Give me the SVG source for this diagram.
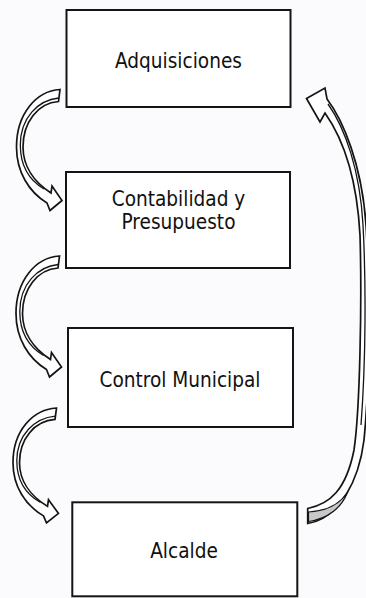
<svg xmlns="http://www.w3.org/2000/svg" width="366" height="598" viewBox="0 0 366 598">
<style>
.box{fill:#ffffff;stroke:#141414;stroke-width:2}
.lbl{font-family:'DejaVu Sans Condensed','DejaVu Sans',sans-serif;font-stretch:condensed;font-size:20.6px;fill:#111111;text-anchor:middle}
.arr{fill:#ffffff;stroke:#141414;stroke-width:1.7;stroke-linejoin:miter}
.fold{fill:none;stroke:#141414;stroke-width:1.3}
.back{fill:#c8c8c8;stroke:#141414;stroke-width:1.2}
</style>
<defs>
<g id="curvedArrow">
<path class="arr" d="M60,89.5 C36,91 16.5,114 16.5,147 C16.5,172 29,192 47,203 L50,210.5 L62,200.5 L52,186 L51,193 C34,182 23,166 23,147 C23,122 38,103 58.5,101.5 Z"/>
<path class="fold" d="M58.8,98 C38,100 20.3,118 20.3,145 C20.3,165 29,180 44,189"/>
</g>
</defs>
<rect x="0" y="0" width="366" height="598" fill="#fbfbfd"/>
<g id="connectors">
<use href="#curvedArrow"/>
<use href="#curvedArrow" transform="translate(-0.5,166.5)"/>
<use href="#curvedArrow" transform="translate(-3.5,323) scale(1,0.95)"/>
<g id="returnArrow">
<path class="arr" d="M306.5,98.5 L325,88 L327,99 C343,120 362,165 366,225 C370,290 370,380 364,440 C359,480 340,518 307.7,523.5 L307.7,508.5 C330,504 346,490 354,450 C360,410 362,300 360,235 C357,180 344,140 325,113 L320,122 Z"/>
<path class="fold" d="M328,104 C345,128 360,170 363,225 C366,280 366,360 361,425"/>
<path class="back" d="M308.5,512 C326,511 339,505 347,493 C342,507 328,519 308.5,521.5 Z"/>
</g>
</g>
<g id="node-adquisiciones">
<rect class="box" x="66.5" y="10" width="224" height="97"/>
<text class="lbl" x="178.5" y="68.3">Adquisiciones</text>
</g>
<g id="node-contabilidad">
<rect class="box" x="66" y="172" width="224" height="96"/>
<text class="lbl" x="178.5" y="205.5">Contabilidad y</text>
<text class="lbl" x="178.5" y="229">Presupuesto</text>
</g>
<g id="node-control">
<rect class="box" x="68" y="328" width="225" height="99"/>
<text class="lbl" x="180" y="386.7">Control Municipal</text>
</g>
<g id="node-alcalde">
<rect class="box" x="72.3" y="502.3" width="225" height="94"/>
<text class="lbl" x="184" y="558.3">Alcalde</text>
</g>
</svg>
